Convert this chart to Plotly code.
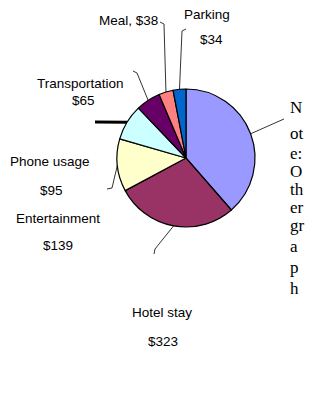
import math
import plotly.graph_objects as go

# Travel expense breakdown (slices drawn clockwise from 12 o'clock)
categories = ["Other", "Hotel stay", "Entertainment", "Phone usage",
              "Transportation", "Meal", "Parking"]
amounts = [436, 323, 139, 95, 65, 38, 34]
slice_colors = ["#9999FF", "#993366", "#FFFFCC", "#CCFFFF",
                "#660066", "#FF8080", "#0066CC"]

# Note text, broken into the narrow column it is printed in
note_fragments = ["N", "ot", "e:", "O", "th", "er", "gr", "a", "p", "h"]

W, H = 325, 410
CX, CY, R = 186, 158, 69  # pie centre and radius in pixels


def px(x, y):
    """pixel position -> paper coordinates"""
    return x / W, 1 - y / H


def slice_edge(i):
    """point on the rim at the middle of slice i"""
    total = sum(amounts)
    start = sum(amounts[:i]) / total * 360
    mid = math.radians(start + amounts[i] / total * 180)
    return CX + R * math.sin(mid), CY - R * math.cos(mid)


fig = go.Figure(go.Pie(
    labels=categories,
    values=amounts,
    sort=False,
    direction="clockwise",
    rotation=0,
    textinfo="none",
    hoverinfo="label+value",
    marker=dict(colors=slice_colors, line=dict(color="black", width=1.2)),
    domain=dict(x=[(CX - R) / W, (CX + R) / W],
                y=[1 - (CY + R) / H, 1 - (CY - R) / H]),
    showlegend=False,
))

label_font = dict(family="Liberation Sans, Arial", size=13.5, color="black")
idx = {c: i for i, c in enumerate(categories)}
annotations = []
shapes = []


def text(s, x, y, anchor="center", font=label_font):
    xp, yp = px(x, y)
    annotations.append(dict(text=s, x=xp, y=yp, xref="paper", yref="paper",
                            xanchor=anchor, yanchor="middle", showarrow=False,
                            font=font))


def leader(points, cat, width=0.8):
    pts = list(points) + [slice_edge(idx[cat])]
    path = "M " + " L ".join(f"{px(x, y)[0]:.5f},{px(x, y)[1]:.5f}" for x, y in pts)
    shapes.append(dict(type="path", path=path, xref="paper", yref="paper",
                       line=dict(color="black", width=width)))


def money(cat):
    return f"${amounts[idx[cat]]}"


# data labels
text(f"Meal, {money('Meal')}", 128, 20)
text("Parking", 207, 14)
text(money("Parking"), 212, 40)
text("Transportation", 80, 84)
text(money("Transportation"), 83, 100)
text("Phone usage", 50, 161)
text(money("Phone usage"), 51, 190)
text("Entertainment", 58, 218)
text(money("Entertainment"), 58, 245)
text("Hotel stay", 162, 312)
text(money("Hotel stay"), 163, 341)

# leader lines
leader([(160, 22), (164, 24)], "Meal")
leader([(186, 29), (182, 31)], "Parking")
leader([(133, 71), (137, 73)], "Transportation")
leader([(107, 189), (112, 188)], "Entertainment")
leader([(95, 122)], "Phone usage", width=3)
leader([(154, 254), (155, 249)], "Hotel stay")
leader([(284, 119)], "Other")

# note column
note_font = dict(family="Liberation Serif, Times New Roman", size=17, color="black")
note_y = [107, 133, 153, 172, 189, 207, 225, 246, 267, 288]
for frag, y in zip(note_fragments, note_y):
    text(frag, 288, y, anchor="left", font=note_font)

fig.update_layout(
    width=W, height=H,
    margin=dict(l=0, r=0, t=0, b=0),
    paper_bgcolor="white",
    plot_bgcolor="white",
    annotations=annotations,
    shapes=shapes,
)

fig.write_html("out.html")
